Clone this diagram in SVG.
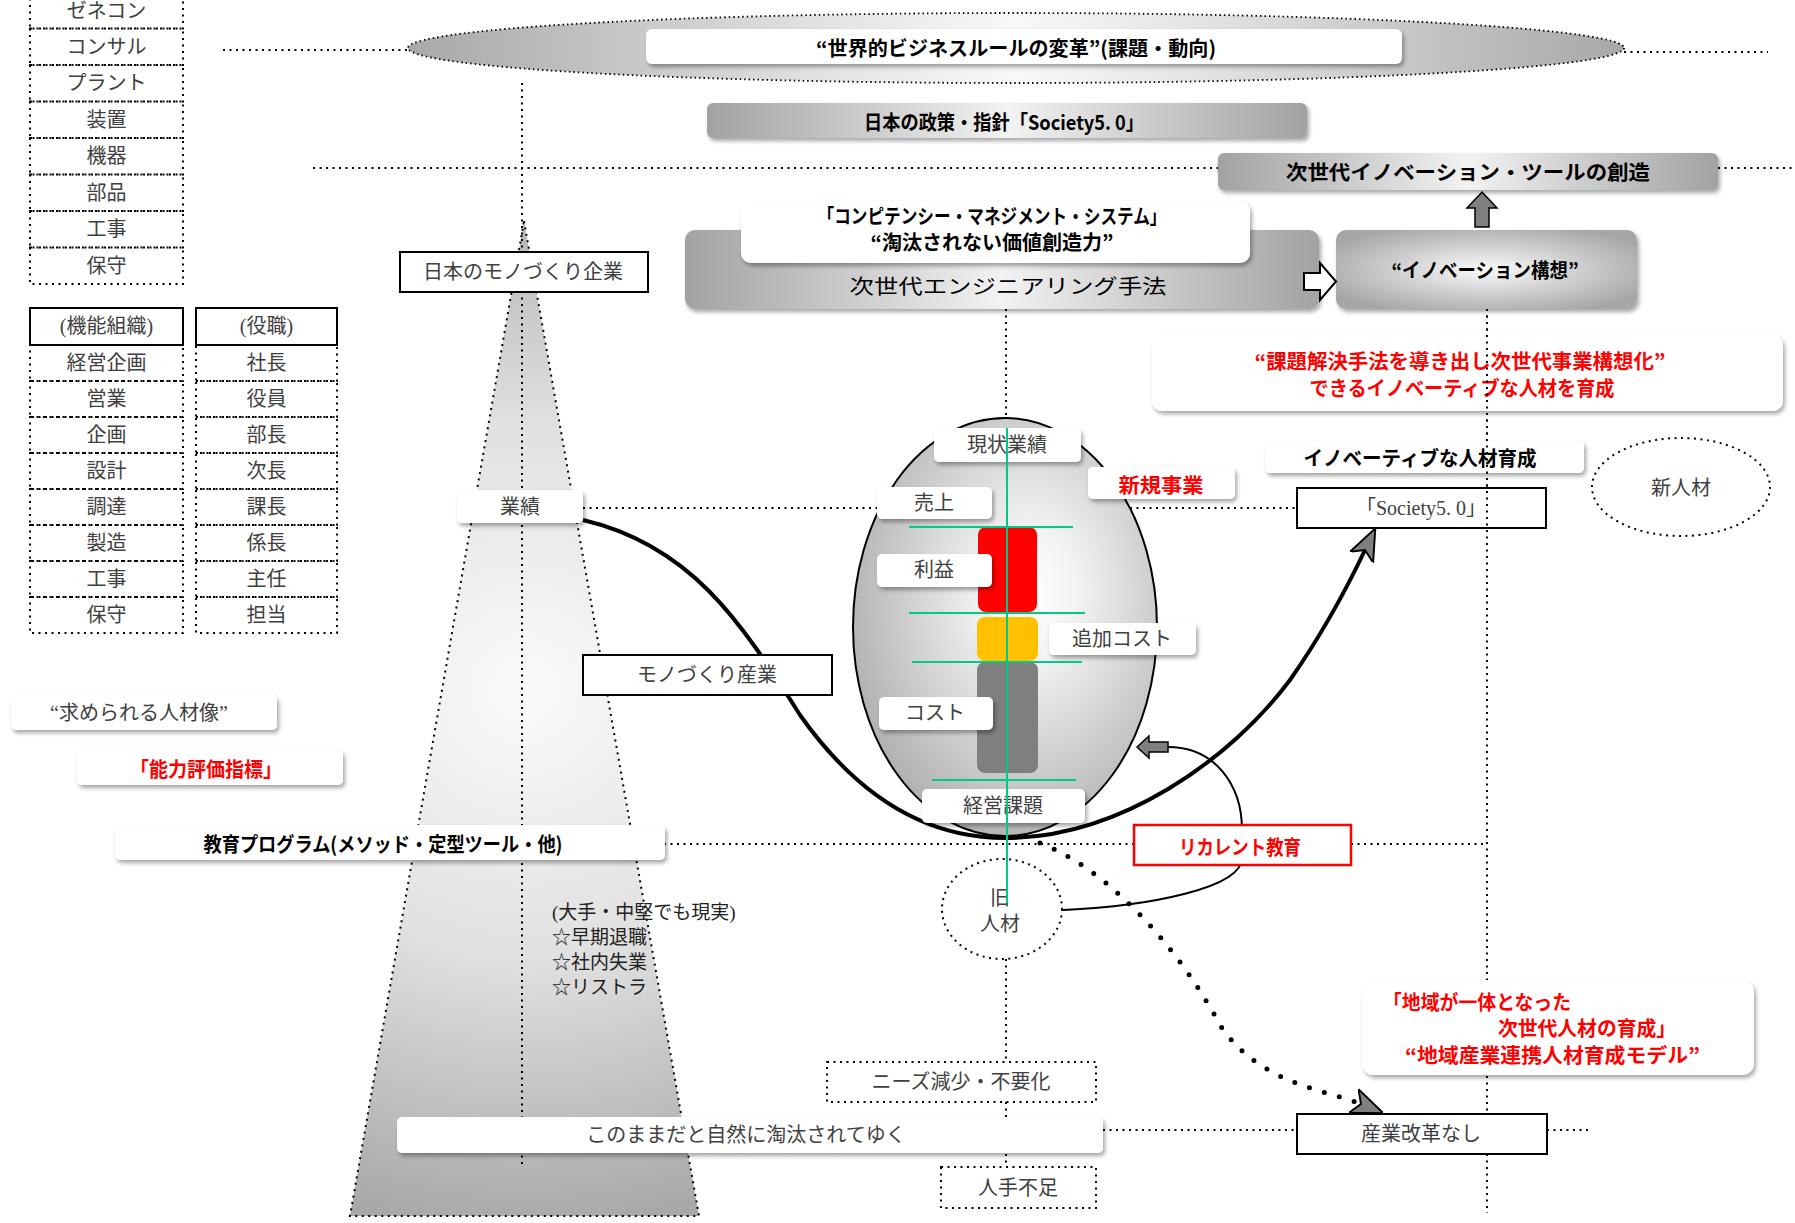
<svg xmlns="http://www.w3.org/2000/svg" width="1795" height="1223" viewBox="0 0 1795 1223">
<defs>
<style>
.dot{fill:none;stroke:#000;stroke-width:2;stroke-dasharray:2 4.5}
.dotf{fill:#fff;stroke:#000;stroke-width:2;stroke-dasharray:2 4.5}
.solid{fill:#fff;stroke:#000;stroke-width:2}
.wb{fill:#fff;filter:url(#sh)}
.t{font-family:"Liberation Serif","Noto Sans CJK JP",serif;font-size:20px;fill:#404040;text-anchor:middle;dominant-baseline:central}
.b{font-family:"Noto Sans CJK JP",sans-serif;font-weight:700;font-size:20px;fill:#000;text-anchor:middle;dominant-baseline:central}
.r{fill:#ff0000}
.green{stroke:#00c98a;stroke-width:2;fill:none}
.arrowfill{fill:#7f7f7f;stroke:#000;stroke-width:1.5}
</style>
<filter id="sh" x="-10%" y="-20%" width="120%" height="160%">
<feDropShadow dx="2" dy="3" stdDeviation="2" flood-color="#000" flood-opacity="0.35"/>
</filter>
<linearGradient id="gEl" x1="0" y1="0" x2="1" y2="0">
<stop offset="0" stop-color="#a8a8a8"/><stop offset="0.35" stop-color="#e4e4e4"/><stop offset="0.5" stop-color="#f8f8f8"/><stop offset="0.65" stop-color="#e4e4e4"/><stop offset="1" stop-color="#a8a8a8"/>
</linearGradient>
<linearGradient id="gBar" x1="0" y1="0" x2="1" y2="0">
<stop offset="0" stop-color="#a2a2a2"/><stop offset="0.5" stop-color="#f2f2f2"/><stop offset="1" stop-color="#a2a2a2"/>
</linearGradient>
<radialGradient id="gRad" cx="0.5" cy="0.5" r="0.6">
<stop offset="0" stop-color="#fafafa"/><stop offset="1" stop-color="#a6a6a6"/>
</radialGradient>
<radialGradient id="gEgg" cx="0.58" cy="0.42" r="0.62">
<stop offset="0" stop-color="#ffffff"/><stop offset="0.25" stop-color="#f3f3f3"/><stop offset="1" stop-color="#b0b0b0"/>
</radialGradient>
<radialGradient id="gPyr" gradientUnits="userSpaceOnUse" cx="525" cy="690" r="540">
<stop offset="0" stop-color="#fbfbfb"/><stop offset="0.5" stop-color="#e0e0e0"/><stop offset="1" stop-color="#a8a8a8"/>
</radialGradient>
<marker id="ah" viewBox="0 0 20 20" markerUnits="userSpaceOnUse" markerWidth="32" markerHeight="32" refX="5" refY="10" orient="auto">
<path d="M0,2 L20,10 L0,18 L5,10 Z" fill="#7f7f7f" stroke="#000" stroke-width="1.2"/>
</marker>
</defs>
<rect width="1795" height="1223" fill="#fff"/>

<g id="backgrounds">
<ellipse id="world-ellipse" cx="1016" cy="48" rx="608" ry="35" fill="url(#gEl)" stroke="#000" stroke-width="1.8" stroke-dasharray="1.5 3"/>
<polygon id="pyramid" points="524,221 699,1216 350,1216" class="dot" style="fill:url(#gPyr)"/>
<ellipse id="egg" cx="1005" cy="627" rx="152" ry="209" fill="url(#gEgg)" stroke="#000" stroke-width="2"/>
</g>

<g id="connectors">
<line class="dot" x1="223" y1="50" x2="409" y2="50"/>
<line class="dot" x1="1624" y1="52" x2="1768" y2="52"/>
<line class="dot" x1="313" y1="168" x2="1218" y2="168"/>
<line class="dot" x1="1718" y1="168" x2="1795" y2="168"/>
<line class="dot" x1="522" y1="83" x2="522" y2="1167"/>
<line class="dot" x1="1006" y1="309" x2="1006" y2="418"/>
<line class="dot" x1="1006" y1="959" x2="1006" y2="1167"/>
<line class="dot" x1="1487" y1="309" x2="1487" y2="1213"/>
<line class="dot" x1="583" y1="508" x2="880" y2="508"/>
<line class="dot" x1="1130" y1="508" x2="1297" y2="508"/>
<line class="dot" x1="664" y1="844" x2="1134" y2="844"/>
<line class="dot" x1="1351" y1="844" x2="1487" y2="844"/>
<line class="dot" x1="1103" y1="1130" x2="1297" y2="1130"/>
<line class="dot" x1="1547" y1="1130" x2="1588" y2="1130"/>
<path id="mono-curve" d="M583,520 C690,545 740,620 800,715 C860,800 930,838 1005,838 C1120,838 1230,760 1290,680 C1318,640 1345,592 1365,550" fill="none" stroke="#000" stroke-width="4" marker-end="url(#ah)"/>
<path id="reform-curve" d="M1040,843 C1110,870 1180,950 1220,1025 C1260,1085 1327,1090 1361,1104" fill="none" stroke="#000" stroke-width="5" stroke-linecap="round" stroke-dasharray="0 15.5" marker-end="url(#ah)"/>
<path id="recurrent-curve" d="M1063,910 C1150,906 1242,888 1242,858 L1242,830 C1242,785 1215,747 1168,747" fill="none" stroke="#000" stroke-width="2"/>
<polygon class="arrowfill" points="1137,747 1149,736 1149,742 1168,742 1168,752 1149,752 1149,758"/>
<polygon class="arrowfill" points="1482,192 1497,208 1489,208 1489,227 1475,227 1475,208 1467,208"/>
</g>

<g id="table-industry">
<rect class="dot" x="30" y="-8" width="153" height="36.5"/><text class="t" x="106.5" y="11">ゼネコン</text>
<rect class="dot" x="30" y="28.5" width="153" height="36.5"/><text class="t" x="106.5" y="47">コンサル</text>
<rect class="dot" x="30" y="65" width="153" height="36.5"/><text class="t" x="106.5" y="83">プラント</text>
<rect class="dot" x="30" y="101.5" width="153" height="36.5"/><text class="t" x="106.5" y="120">装置</text>
<rect class="dot" x="30" y="138" width="153" height="36.5"/><text class="t" x="106.5" y="156">機器</text>
<rect class="dot" x="30" y="174.5" width="153" height="36.5"/><text class="t" x="106.5" y="193">部品</text>
<rect class="dot" x="30" y="211" width="153" height="36.5"/><text class="t" x="106.5" y="229">工事</text>
<rect class="dot" x="30" y="247.5" width="153" height="36.5"/><text class="t" x="106.5" y="266">保守</text>
</g>

<g id="table-function">
<rect class="solid" x="30" y="308" width="153" height="37"/><text class="t" x="106.5" y="326">(機能組織)</text>
<rect class="dot" x="30" y="345" width="153" height="36"/><text class="t" x="106.5" y="363">経営企画</text>
<rect class="dot" x="30" y="381" width="153" height="36"/><text class="t" x="106.5" y="399">営業</text>
<rect class="dot" x="30" y="417" width="153" height="36"/><text class="t" x="106.5" y="435">企画</text>
<rect class="dot" x="30" y="453" width="153" height="36"/><text class="t" x="106.5" y="471">設計</text>
<rect class="dot" x="30" y="489" width="153" height="36"/><text class="t" x="106.5" y="507">調達</text>
<rect class="dot" x="30" y="525" width="153" height="36"/><text class="t" x="106.5" y="543">製造</text>
<rect class="dot" x="30" y="561" width="153" height="36"/><text class="t" x="106.5" y="579">工事</text>
<rect class="dot" x="30" y="597" width="153" height="36"/><text class="t" x="106.5" y="615">保守</text>
</g>

<g id="table-position">
<rect class="solid" x="196" y="308" width="141" height="37"/><text class="t" x="266.5" y="326">(役職)</text>
<rect class="dot" x="196" y="345" width="141" height="36"/><text class="t" x="266.5" y="363">社長</text>
<rect class="dot" x="196" y="381" width="141" height="36"/><text class="t" x="266.5" y="399">役員</text>
<rect class="dot" x="196" y="417" width="141" height="36"/><text class="t" x="266.5" y="435">部長</text>
<rect class="dot" x="196" y="453" width="141" height="36"/><text class="t" x="266.5" y="471">次長</text>
<rect class="dot" x="196" y="489" width="141" height="36"/><text class="t" x="266.5" y="507">課長</text>
<rect class="dot" x="196" y="525" width="141" height="36"/><text class="t" x="266.5" y="543">係長</text>
<rect class="dot" x="196" y="561" width="141" height="36"/><text class="t" x="266.5" y="579">主任</text>
<rect class="dot" x="196" y="597" width="141" height="36"/><text class="t" x="266.5" y="615">担当</text>
</g>

<g id="node-world">
<rect class="wb" x="646" y="29" width="756" height="35" rx="6"/>
<text class="b" x="1016" y="47" textLength="400" lengthAdjust="spacingAndGlyphs">“世界的ビジネスルールの変革”(課題・動向)</text>
</g>
<g id="node-policy">
<rect x="707" y="103" width="600" height="35" rx="6" fill="url(#gBar)" filter="url(#sh)"/>
<text class="b" x="1004" y="121" font-size="19" textLength="280" lengthAdjust="spacingAndGlyphs">日本の政策・指針「Society5. 0」</text>
</g>
<g id="node-tool">
<rect x="1218" y="153" width="500" height="37" rx="6" fill="url(#gBar)" filter="url(#sh)"/>
<text class="b" x="1468" y="171" font-size="23" textLength="364" lengthAdjust="spacingAndGlyphs">次世代イノベーション・ツールの創造</text>
</g>
<g id="node-engineering">
<rect x="685" y="230" width="634" height="79" rx="10" fill="url(#gBar)" filter="url(#sh)"/>
<text class="b" x="1008" y="285" font-size="26" textLength="317" lengthAdjust="spacingAndGlyphs" style="font-weight:400">次世代エンジニアリング手法</text>
</g>
<g id="node-competency">
<rect class="wb" x="741" y="201" width="509" height="62" rx="10"/>
<text class="b" x="992" y="215" font-size="19" textLength="349" lengthAdjust="spacingAndGlyphs">「コンピテンシー・マネジメント・システム」</text>
<text class="b" x="992" y="241" font-size="19" textLength="243" lengthAdjust="spacingAndGlyphs">“淘汰されない価値創造力”</text>
</g>
<g id="node-innovation">
<rect x="1336" y="230" width="301" height="79" rx="10" fill="url(#gRad)" filter="url(#sh)"/>
<text class="b" x="1485" y="269" textLength="187" lengthAdjust="spacingAndGlyphs">“イノベーション構想”</text>
</g>
<g id="node-goal">
<rect class="wb" x="1152" y="335" width="631" height="76" rx="10"/>
<text class="b r" x="1460" y="360" textLength="411" lengthAdjust="spacingAndGlyphs">“課題解決手法を導き出し次世代事業構想化”</text>
<text class="b r" x="1462" y="387" textLength="305" lengthAdjust="spacingAndGlyphs">できるイノベーティブな人材を育成</text>
</g>
<g id="node-innov-hr">
<rect class="wb" x="1265" y="441" width="319" height="32" rx="5"/>
<text class="b" x="1420" y="457" textLength="233" lengthAdjust="spacingAndGlyphs">イノベーティブな人材育成</text>
</g>
<g id="node-society">
<rect class="solid" x="1297" y="488" width="249" height="40"/>
<text class="t" x="1421" y="508">「Society5. 0」</text>
</g>
<g id="node-new-hr">
<ellipse class="dot" cx="1681" cy="487" rx="89" ry="49"/>
<text class="t" x="1681" y="488">新人材</text>
</g>
<g id="node-newbiz">
<rect class="wb" x="1088" y="467" width="147" height="32" rx="5"/>
<text class="b r" x="1161" y="484" font-size="21" textLength="85" lengthAdjust="spacingAndGlyphs">新規事業</text>
</g>

<g id="node-company">
<rect class="solid" x="400" y="252" width="248" height="40"/>
<text class="t" x="523" y="272" font-size="19">日本のモノづくり企業</text>
</g>
<g id="node-perf">
<rect class="wb" x="457" y="490" width="126" height="33" rx="5"/>
<text class="t" x="520" y="507">業績</text>
</g>
<g id="node-industry">
<rect class="solid" x="583" y="655" width="249" height="40"/>
<text class="t" x="707" y="675" font-size="19">モノづくり産業</text>
</g>

<g id="bars">
<rect x="978" y="527" width="59" height="85" rx="8" fill="#ff0000"/>
<rect x="977" y="617" width="61" height="44" rx="8" fill="#ffc000"/>
<rect x="977" y="662" width="61" height="111" rx="8" fill="#7f7f7f"/>
</g>
<g id="node-current">
<rect class="wb" x="934" y="428" width="147" height="34" rx="5"/>
<text class="t" x="1007" y="445">現状業績</text>
</g>
<g id="node-sales">
<rect class="wb" x="877" y="487" width="115" height="32" rx="5"/>
<text class="t" x="934" y="503">売上</text>
</g>
<g id="node-profit">
<rect class="wb" x="877" y="554" width="115" height="33" rx="5"/>
<text class="t" x="934" y="570">利益</text>
</g>
<g id="node-addcost">
<rect class="wb" x="1049" y="623" width="147" height="32" rx="5"/>
<text class="t" x="1122" y="639">追加コスト</text>
</g>
<g id="node-cost">
<rect class="wb" x="879" y="697" width="114" height="33" rx="5"/>
<text class="t" x="935" y="713">コスト</text>
</g>
<g id="node-issue">
<rect class="wb" x="922" y="789" width="163" height="34" rx="5"/>
<text class="t" x="1003" y="806">経営課題</text>
</g>

<g id="node-old-hr">
<ellipse class="dotf" cx="1002" cy="909" rx="60" ry="50"/>
<text class="t" x="1000" y="898">旧</text>
<text class="t" x="1000" y="924">人材</text>
</g>
<g id="node-recurrent">
<rect x="1134" y="825" width="217" height="40" fill="#fff" stroke="#ff0000" stroke-width="2.5"/>
<text class="b r" x="1240" y="846" font-size="21" textLength="122" lengthAdjust="spacingAndGlyphs">リカレント教育</text>
</g>

<g id="node-required">
<rect class="wb" x="11" y="695" width="266" height="35" rx="5"/>
<text class="t" x="139" y="713" font-size="19">“求められる人材像”</text>
</g>
<g id="node-index">
<rect class="wb" x="77" y="750" width="266" height="35" rx="5"/>
<text class="b r" x="206" y="768" textLength="152" lengthAdjust="spacingAndGlyphs">「能力評価指標」</text>
</g>
<g id="node-program">
<rect class="wb" x="115" y="825" width="550" height="35" rx="5"/>
<text class="b" x="383" y="843" textLength="359" lengthAdjust="spacingAndGlyphs">教育プログラム(メソッド・定型ツール・他)</text>
</g>

<g id="note-reality" font-family="Liberation Serif, Noto Sans CJK JP, serif" font-size="19" fill="#222">
<text x="552" y="919">(大手・中堅でも現実)</text>
<text x="552" y="944">☆早期退職</text>
<text x="552" y="969">☆社内失業</text>
<text x="552" y="994">☆リストラ</text>
</g>

<g id="node-needs">
<rect class="dotf" x="827" y="1062" width="269" height="40"/>
<text class="t" x="961" y="1082">ニーズ減少・不要化</text>
</g>
<g id="node-shortage">
<rect class="dotf" x="941" y="1167" width="155" height="41"/>
<text class="t" x="1018" y="1188">人手不足</text>
</g>
<g id="node-eliminated">
<rect class="wb" x="397" y="1117" width="706" height="36" rx="5"/>
<text class="t" x="746" y="1135" font-size="19">このままだと自然に淘汰されてゆく</text>
</g>
<g id="node-noreform">
<rect class="solid" x="1297" y="1114" width="250" height="40"/>
<text class="t" x="1421" y="1134">産業改革なし</text>
</g>
<g id="node-region">
<rect class="wb" x="1362" y="980" width="392" height="95" rx="12"/>
<text class="b r" x="1383" y="1001" font-size="18" textLength="188" lengthAdjust="spacingAndGlyphs" style="text-anchor:start">「地域が一体となった</text>
<text class="b r" x="1498" y="1027" font-size="18" textLength="178" lengthAdjust="spacingAndGlyphs" style="text-anchor:start">次世代人材の育成」</text>
<text class="b r" x="1405" y="1054" font-size="18" textLength="295" lengthAdjust="spacingAndGlyphs" style="text-anchor:start">“地域産業連携人材育成モデル”</text>
</g>

<g id="flow-arrow">
<polygon points="1304,273 1320,273 1320,263 1336,281.5 1320,300 1320,290 1304,290" fill="#fff" stroke="#000" stroke-width="2"/>
</g>

<g id="overlay">
<line class="dot" x1="1487" y1="309" x2="1487" y2="530"/>
<line class="green" x1="1007" y1="428" x2="1007" y2="903"/>
<line class="green" x1="909" y1="527" x2="1073" y2="527"/>
<line class="green" x1="909" y1="613" x2="1085" y2="613"/>
<line class="green" x1="912" y1="662" x2="1082" y2="662"/>
<line class="green" x1="932" y1="780" x2="1076" y2="780"/>
</g>
</svg>
